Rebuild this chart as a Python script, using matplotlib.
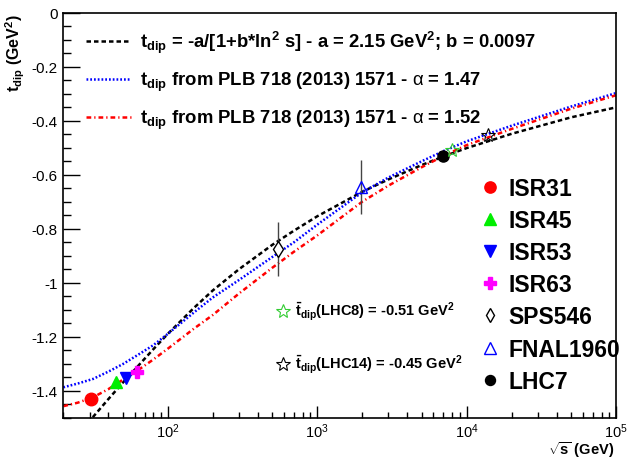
import math
import matplotlib
matplotlib.use('Agg')
import matplotlib.pyplot as plt
from matplotlib.ticker import FixedLocator, FuncFormatter, LogLocator, NullFormatter, MultipleLocator

plt.rcParams['font.family'] = ['Liberation Sans', 'DejaVu Sans']
plt.rcParams['mathtext.fontset'] = 'custom'
plt.rcParams['mathtext.rm'] = 'Liberation Sans:bold'
plt.rcParams['mathtext.it'] = 'Liberation Sans:bold'
plt.rcParams['mathtext.bf'] = 'Liberation Sans:bold'
plt.rcParams['mathtext.sf'] = 'Liberation Sans'
plt.rcParams['axes.unicode_minus'] = False

# ---- curves ----
curve_sqrts = [20, 25, 31.6, 40, 50, 63, 80, 100, 150, 200, 300, 500, 700,
               1000, 2000, 3000, 5000, 7000, 10000, 20000, 50000, 100000]
fit_black = [-1.625, -1.563, -1.498, -1.432, -1.371, -1.31, -1.247, -1.19, -1.093,
             -1.029, -0.95, -0.86, -0.807, -0.754, -0.663, -0.617, -0.564, -0.532,
             -0.501, -0.448, -0.387, -0.35]
plb_147 = [-1.388, -1.374, -1.357, -1.33, -1.302, -1.268, -1.232, -1.19, -1.11,
           -1.055, -0.99, -0.905, -0.85, -0.785, -0.665, -0.61, -0.55, -0.512,
           -0.476, -0.418, -0.347, -0.297]
plb_152 = [-1.458, -1.445, -1.425, -1.395, -1.36, -1.325, -1.285, -1.245, -1.17,
           -1.12, -1.04, -0.945, -0.885, -0.825, -0.7, -0.64, -0.572, -0.53,
           -0.49, -0.43, -0.355, -0.305]

# ---- data points ----
isr31_x, isr31_y = [30.6], [-1.43]
isr45_x, isr45_y = [44.7], [-1.37]
isr53_x, isr53_y = [52.8], [-1.355]
isr63_x, isr63_y = [62.5], [-1.33]
sps_x, sps_y, sps_err = [546], [-0.874], [0.10]
fnal_x, fnal_y, fnal_err = [1960], [-0.646], [0.10]
lhc7_x, lhc7_y = [7000], [-0.53]
lhc8_x, lhc8_y = [8000], [-0.507]
lhc14_x, lhc14_y = [14000], [-0.452]

fit_label = r"t$_{dip}$ = -a/[1+b*ln$^{2}$ s] - a = 2.15 GeV$^{2}$; b = 0.0097"
plb147_label = r"t$_{dip}$ from PLB 718 (2013) 1571 - $\mathsf{\alpha}$ = 1.47"
plb152_label = r"t$_{dip}$ from PLB 718 (2013) 1571 - $\mathsf{\alpha}$ = 1.52"
lhc8_label = r"$\bar{t}_{dip}$(LHC8) = -0.51 GeV$^{2}$"
lhc14_label = r"$\bar{t}_{dip}$(LHC14) = -0.45 GeV$^{2}$"

fig = plt.figure(figsize=(6.27, 4.6), dpi=100)
ax = fig.add_axes([0.101, 0.0902, 0.8815, 0.8794])

lw = 1.8
l_black, = ax.plot(curve_sqrts, fit_black, color='black', lw=lw, ls=(0, (1.8, 1.2)))
l_blue, = ax.plot(curve_sqrts, plb_147, color='blue', lw=lw, ls=(0, (0.7, 0.8)))
l_red, = ax.plot(curve_sqrts, plb_152, color='red', lw=lw, ls=(0, (1.9, 1.2, 0.5, 1.2)))

ax.errorbar(sps_x, sps_y, yerr=sps_err, fmt='none', ecolor='#444444', elinewidth=1, capsize=0)
ax.errorbar(fnal_x, fnal_y, yerr=fnal_err, fmt='none', ecolor='#444444', elinewidth=1, capsize=0)

h_isr31, = ax.plot(isr31_x, isr31_y, 'o', color='red', ms=9, ls='none')
h_isr45, = ax.plot(isr45_x, isr45_y, '^', color='#00ee00', ms=9, ls='none')
h_isr53, = ax.plot(isr53_x, isr53_y, 'v', color='blue', ms=9, ls='none')
h_isr63, = ax.plot(isr63_x, isr63_y, 'P', color='magenta', ms=9, ls='none')
h_sps, = ax.plot(sps_x, sps_y, 'd', mfc='white', mec='black', mew=1, ms=8, ls='none')
h_fnal, = ax.plot(fnal_x, fnal_y, '^', mfc='none', mec='blue', mew=1, ms=9, ls='none')
h_lhc7, = ax.plot(lhc7_x, lhc7_y, 'o', color='black', ms=8, ls='none')
h_lhc8, = ax.plot(lhc8_x, lhc8_y, '*', mfc='none', mec='#33cc33', mew=0.8, ms=10, ls='none')
h_lhc14, = ax.plot(lhc14_x, lhc14_y, '*', mfc='none', mec='black', mew=0.8, ms=10, ls='none')

ax.set_xscale('log')
ax.set_xlim(20, 1e5)
ax.set_ylim(-1.5, 0)

ax.xaxis.set_major_locator(FixedLocator([1e2, 1e3, 1e4, 1e5]))
ax.xaxis.set_major_formatter(FuncFormatter(lambda v, p: r'$\mathsf{10^{%d}}$' % round(math.log10(v))))
ax.xaxis.set_minor_locator(LogLocator(base=10, subs=range(2, 10), numticks=20))
ax.xaxis.set_minor_formatter(NullFormatter())
ax.yaxis.set_major_locator(MultipleLocator(0.2))
ax.yaxis.set_minor_locator(MultipleLocator(0.05))
ax.yaxis.set_major_formatter(FuncFormatter(lambda v, p: '%g' % round(v, 2)))

ax.tick_params(axis='both', which='both', direction='in', top=False, right=False, width=1)
ax.tick_params(axis='y', which='major', length=12, pad=4, labelsize=11)
ax.tick_params(axis='y', which='minor', length=6)
ax.tick_params(axis='x', which='major', length=8.5, pad=3, labelsize=10.5)
ax.tick_params(axis='x', which='minor', length=4.3)
for s in ax.spines.values():
    s.set_linewidth(1.2)

fig.text(15 / 627, 1 - 14 / 460, r"t$_{dip}$ (GeV$^{2}$)", rotation=90, ha='center', va='top',
         fontsize=11.5, fontweight='bold')
fig.text(614 / 627, 1 - 455 / 460, r"$\sqrt{s}$ (GeV)", ha='right', va='baseline',
         fontsize=10.5, fontweight='bold')

leg1 = ax.legend([l_black, l_blue, l_red], [fit_label, plb147_label, plb152_label],
                 loc='upper left', bbox_to_anchor=(0.041, 0.96), frameon=False,
                 prop={'weight': 'bold', 'size': 13.3}, handlelength=2.45,
                 handletextpad=0.5, labelspacing=0.8, borderpad=0, borderaxespad=0)
ax.add_artist(leg1)

leg2 = ax.legend([h_isr31, h_isr45, h_isr53, h_isr63, h_sps, h_fnal, h_lhc7],
                 ['ISR31', 'ISR45', 'ISR53', 'ISR63', 'SPS546', 'FNAL1960', 'LHC7'],
                 loc='upper left', bbox_to_anchor=(0.755, 0.595), frameon=False,
                 prop={'weight': 'bold', 'size': 16.5}, handlelength=0.8, numpoints=1,
                 handletextpad=0.4, labelspacing=0.4, borderpad=0, borderaxespad=0,
                 markerscale=0.9)
ax.add_artist(leg2)

leg3 = ax.legend([h_lhc8, h_lhc14], [lhc8_label, lhc14_label],
                 loc='upper left', bbox_to_anchor=(0.385, 0.29), frameon=False,
                 prop={'weight': 'bold', 'size': 10.5}, handlelength=1.0, numpoints=1,
                 handletextpad=0.3, labelspacing=2.1, borderpad=0, borderaxespad=0)

fig.savefig('out.png', dpi=100)
